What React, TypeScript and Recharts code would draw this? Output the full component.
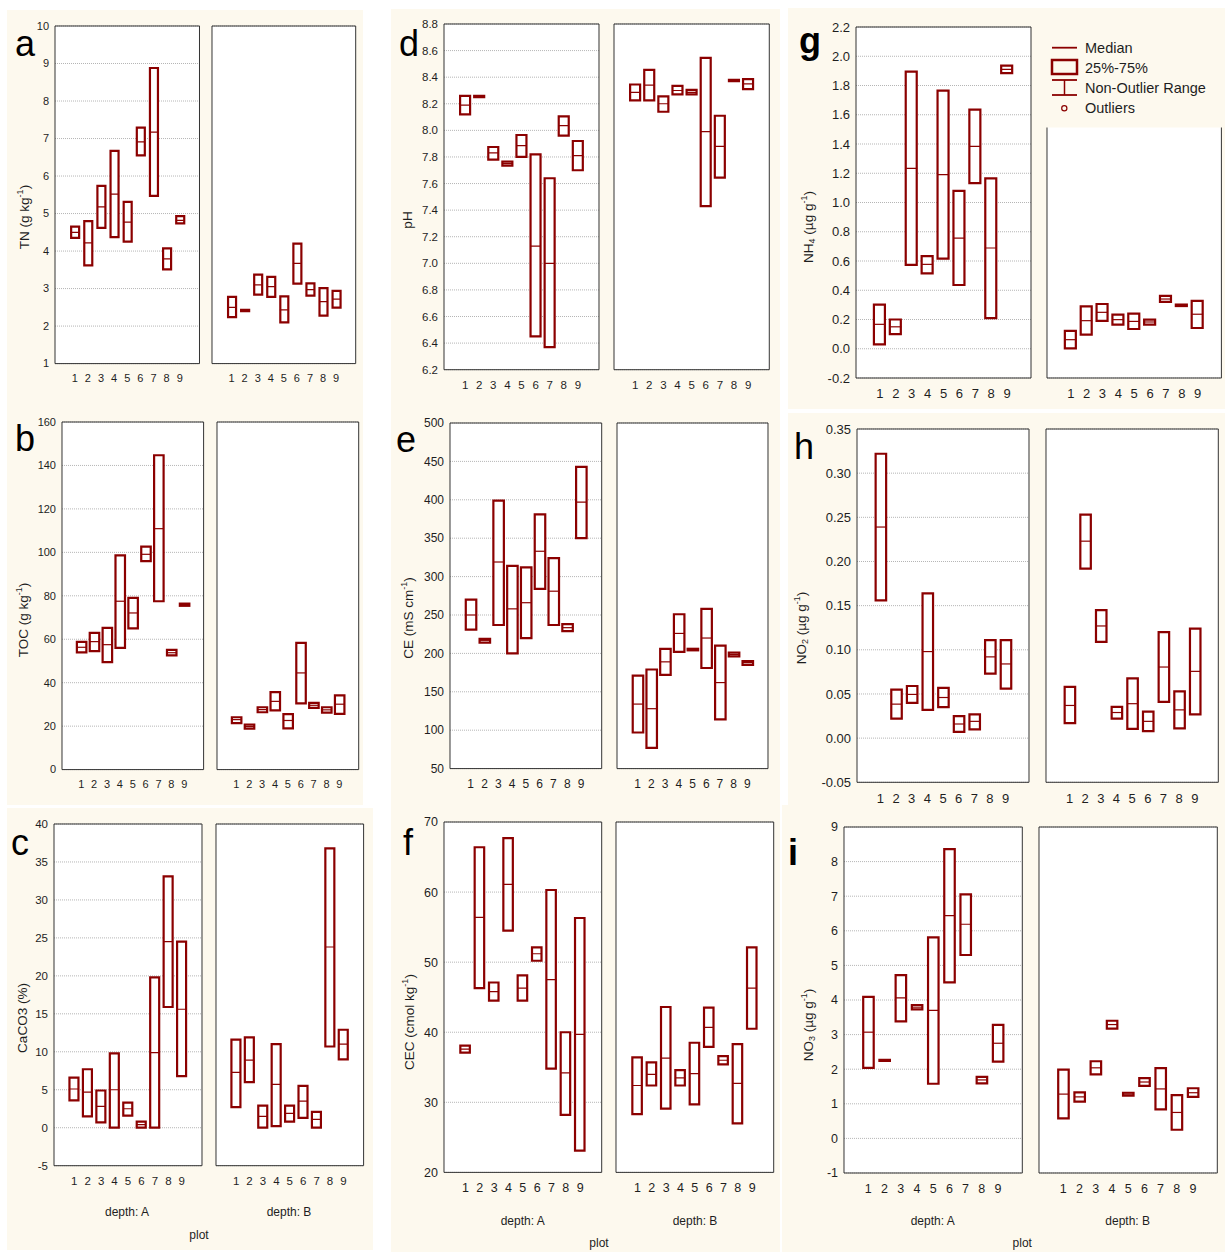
import React from "react";
import { Bar, CartesianGrid, ComposedChart, Scatter, XAxis, YAxis } from "recharts";

const plots = [1, 2, 3, 4, 5, 6, 7, 8, 9];

// each entry: [low, median, high] for plots 1..9
const tnA = [[4.35, 4.5, 4.65], [3.62, 4.22, 4.8], [4.62, 5.18, 5.74], [4.37, 5.52, 6.67], [4.25, 4.77, 5.31], [6.55, 6.91, 7.29], [5.47, 7.17, 8.88], [3.51, 3.79, 4.07], [4.74, 4.82, 4.93]];
const tnB = [[2.24, 2.5, 2.78], [2.4, 2.41, 2.43], [2.84, 3.1, 3.37], [2.78, 3.05, 3.31], [2.1, 2.43, 2.79], [3.13, 3.67, 4.2], [2.81, 2.97, 3.14], [2.28, 2.65, 3.01], [2.49, 2.72, 2.94]];
const tocA = [[54, 56.3, 58.8], [54.5, 58.9, 62.9], [49.5, 57.5, 65.2], [56, 77.5, 98.6], [65, 72.1, 79], [96, 99.1, 102.6], [77.5, 110.9, 144.7], [52.6, 53.8, 55.1], [75.4, 75.9, 76.4]];
const tocB = [[21.4, 23, 24.1], [18.9, 19.8, 20.7], [26.4, 27.6, 28.7], [27.3, 31.4, 35.7], [19, 22.6, 25.5], [30.5, 44.5, 58.3], [28.4, 29.6, 30.7], [26.2, 27.5, 28.7], [25.6, 30.1, 34.2]];
const caA = [[3.6, 5.1, 6.6], [1.5, 4.7, 7.7], [0.7, 2.8, 4.9], [0, 5, 9.8], [1.6, 2.5, 3.3], [0, 0.4, 0.8], [0, 9.9, 19.8], [15.9, 24.5, 33.1], [6.8, 15.6, 24.5]];
const caB = [[2.7, 7.3, 11.6], [6, 8.9, 11.9], [0, 1.5, 2.9], [0.2, 5.7, 11], [0.8, 1.9, 2.9], [1.3, 3.5, 5.5], [0, 1.1, 2.1], [10.7, 23.8, 36.8], [9, 11, 12.9]];
const phA = [[8.12, 8.19, 8.26], [8.25, 8.255, 8.26], [7.78, 7.83, 7.875], [7.735, 7.75, 7.765], [7.8, 7.885, 7.965], [6.45, 7.13, 7.82], [6.37, 7.0, 7.64], [7.96, 8.035, 8.105], [7.7, 7.81, 7.92]];
const phB = [[8.225, 8.285, 8.345], [8.225, 8.34, 8.455], [8.14, 8.2, 8.255], [8.27, 8.3, 8.335], [8.27, 8.285, 8.305], [7.43, 7.99, 8.545], [7.645, 7.88, 8.11], [8.37, 8.375, 8.38], [8.31, 8.35, 8.385]];
const ceA = [[231, 250, 270], [214, 217, 219], [237, 319, 399], [200, 258, 314], [220, 266, 312], [284, 333, 381], [237, 281, 324], [229, 233.5, 238], [350, 397, 443]];
const ceB = [[97, 134, 171], [77, 128, 179], [172, 189, 206], [202, 226, 251], [204, 205, 206], [181, 220, 258], [114, 162, 210], [196, 198.5, 201], [185, 188, 190]];
const cecA = [[37.1, 37.6, 38.1], [46.3, 56.4, 66.4], [44.5, 45.8, 47.1], [54.5, 61.1, 67.7], [44.5, 46.3, 48.1], [50.2, 51.2, 52.1], [34.8, 47.5, 60.3], [28.2, 34.2, 40], [23.1, 39.7, 56.3]];
const cecB = [[28.3, 32.4, 36.4], [32.4, 34, 35.7], [29.1, 36.3, 43.6], [32.4, 33.5, 34.6], [29.7, 34.1, 38.5], [37.9, 40.7, 43.5], [35.4, 36, 36.6], [27, 32.7, 38.3], [40.5, 46.3, 52.1]];
const nh4A = [[0.03, 0.167, 0.302], [0.1, 0.15, 0.2], [0.573, 1.234, 1.895], [0.516, 0.577, 0.634], [0.616, 1.19, 1.765], [0.436, 0.757, 1.079], [1.133, 1.384, 1.635], [0.21, 0.689, 1.165], [1.885, 1.91, 1.936]];
const nh4B = [[0.003, 0.062, 0.122], [0.096, 0.192, 0.29], [0.19, 0.249, 0.306], [0.165, 0.199, 0.233], [0.135, 0.187, 0.24], [0.165, 0.183, 0.199], [0.32, 0.34, 0.361], [0.292, 0.297, 0.302], [0.142, 0.236, 0.327]];
const no2A = [[0.156, 0.239, 0.322], [0.022, 0.0385, 0.055], [0.04, 0.0495, 0.059], [0.032, 0.098, 0.164], [0.035, 0.046, 0.057], [0.007, 0.016, 0.025], [0.01, 0.019, 0.027], [0.073, 0.092, 0.111], [0.056, 0.084, 0.111]];
const no2B = [[0.017, 0.037, 0.058], [0.192, 0.223, 0.253], [0.109, 0.127, 0.145], [0.022, 0.029, 0.0355], [0.0105, 0.039, 0.0676], [0.008, 0.019, 0.03], [0.041, 0.0805, 0.12], [0.011, 0.032, 0.053], [0.027, 0.0756, 0.124]];
const no3A = [[2.04, 3.07, 4.09], [2.24, 2.26, 2.27], [3.38, 4.06, 4.72], [3.73, 3.79, 3.85], [1.58, 3.7, 5.81], [4.51, 6.44, 8.36], [5.3, 6.19, 7.05], [1.59, 1.69, 1.78], [2.22, 2.75, 3.28]];
const no3B = [[0.58, 1.28, 1.99], [1.06, 1.2, 1.33], [1.85, 2.04, 2.23], [3.17, 3.29, 3.4], [1.235, 1.28, 1.32], [1.52, 1.63, 1.74], [0.84, 1.43, 2.03], [0.25, 0.75, 1.25], [1.2, 1.32, 1.45]];

const tnTicks = [1, 2, 3, 4, 5, 6, 7, 8, 9, 10];
const tocTicks = [0, 20, 40, 60, 80, 100, 120, 140, 160];
const caTicks = [-5, 0, 5, 10, 15, 20, 25, 30, 35, 40];
const phTicks = [6.2, 6.4, 6.6, 6.8, 7.0, 7.2, 7.4, 7.6, 7.8, 8.0, 8.2, 8.4, 8.6, 8.8];
const ceTicks = [50, 100, 150, 200, 250, 300, 350, 400, 450, 500];
const cecTicks = [20, 30, 40, 50, 60, 70];
const nh4Ticks = [-0.2, 0, 0.2, 0.4, 0.6, 0.8, 1.0, 1.2, 1.4, 1.6, 1.8, 2.0, 2.2];
const no2Ticks = [-0.05, 0, 0.05, 0.1, 0.15, 0.2, 0.25, 0.3, 0.35];
const no3Ticks = [-1, 0, 1, 2, 3, 4, 5, 6, 7, 8, 9];

const FONT = '"Liberation Sans", Arial, sans-serif';
const TXT = "#1e1e1e";
const FRAME = "#333";
const BOX = "#8b0000";
const CREAM = "#fdf9ee";

const f0 = (v: number) => String(Math.round(v));
const f1 = (v: number) => v.toFixed(1);
const f2 = (v: number) => v.toFixed(2);

type Frame = { l: number; t: number; r: number; b: number };

function buildData(boxes: number[][]) {
  return [0, ...plots, 10].map((p) => {
    const i = plots.indexOf(p);
    const v = i >= 0 ? boxes[i] : null;
    return { plot: p, range: v ? [v[0], v[2]] : null, med: v ? v[1] : null };
  });
}

function SubPlot({ frame, boxes, ticks, fmt, fs, barSize, labels }: {
  frame: Frame; boxes: number[][]; ticks: number[]; fmt: (v: number) => string; fs: number; barSize: number; labels: boolean;
}) {
  const padL = labels ? 46 : 4;
  const padT = 12;
  const padR = 4;
  const padB = 30;
  const w = frame.r - frame.l + padL + padR;
  const h = frame.b - frame.t + padT + padB;
  const domain = [ticks[0], ticks[ticks.length - 1]];
  const tickStyle = { fontSize: fs, fill: TXT, fontFamily: FONT };
  const medShape = (p: any) => {
    if (!p.payload || p.payload.med == null) return <g />;
    return <line x1={p.cx - barSize / 2} x2={p.cx + barSize / 2} y1={p.cy} y2={p.cy} stroke={BOX} strokeWidth={1.2} />;
  };
  return (
    <div style={{ position: "absolute", left: frame.l - padL, top: frame.t - padT }}>
      <ComposedChart width={w} height={h} data={buildData(boxes)} margin={{ top: padT, right: padR, bottom: 0, left: 0 }}>
        <CartesianGrid vertical={false} fill="#fff" stroke="#b5b5b5" strokeDasharray="1 1" />
        <XAxis dataKey="plot" type="category" height={padB} interval={0} tickLine={false} tickSize={0} tickMargin={11}
          axisLine={{ stroke: FRAME }} tick={tickStyle} tickFormatter={(v: number) => (v >= 1 && v <= 9 ? String(v) : "")} />
        <XAxis xAxisId="bi" dataKey="plot" type="category" mirror interval={0} tick={false} tickSize={3} axisLine={false} tickLine={{ stroke: FRAME }} />
        <XAxis xAxisId="ti" dataKey="plot" type="category" orientation="top" mirror interval={0} tick={false} tickSize={3} axisLine={{ stroke: FRAME }} tickLine={{ stroke: FRAME }} />
        <YAxis type="number" domain={domain} ticks={ticks} allowDataOverflow interval={0} width={padL} tickLine={false} tickSize={0} tickMargin={6}
          axisLine={{ stroke: FRAME }} tick={labels ? tickStyle : false} tickFormatter={fmt} />
        <YAxis yAxisId="li" type="number" domain={domain} ticks={ticks} allowDataOverflow interval={0} mirror tick={false} tickSize={3} axisLine={false} tickLine={{ stroke: FRAME }} />
        <YAxis yAxisId="ri" type="number" orientation="right" domain={domain} ticks={ticks} allowDataOverflow interval={0} mirror tick={false} tickSize={3} axisLine={{ stroke: FRAME }} tickLine={{ stroke: FRAME }} />
        <Bar dataKey="range" barSize={barSize} fill="#fff" stroke={BOX} strokeWidth={2.2} isAnimationActive={false} />
        <Scatter dataKey="med" shape={medShape} isAnimationActive={false} />
      </ComposedChart>
    </div>
  );
}

const panels = [
  { A: { l: 55, t: 25.7, r: 199.5, b: 363.3 }, bl: 212.3, br: 356, a: tnA, b: tnB, ticks: tnTicks, fmt: f0, fs: 11, bar: 8 },
  { A: { l: 61.7, t: 421.7, r: 203.3, b: 769.3 }, bl: 217.3, br: 359, a: tocA, b: tocB, ticks: tocTicks, fmt: f0, fs: 11, bar: 9.5 },
  { A: { l: 54, t: 824, r: 202, b: 1165.7 }, bl: 215.7, br: 363.3, a: caA, b: caB, ticks: caTicks, fmt: f0, fs: 11.5, bar: 9 },
  { A: { l: 444.3, t: 24.3, r: 599.3, b: 370 }, bl: 614, br: 769.3, a: phA, b: phB, ticks: phTicks, fmt: f1, fs: 11.5, bar: 10 },
  { A: { l: 450, t: 422.7, r: 601.7, b: 768.3 }, bl: 616.7, br: 767.7, a: ceA, b: ceB, ticks: ceTicks, fmt: f0, fs: 12, bar: 10.5 },
  { A: { l: 444, t: 822.3, r: 601.7, b: 1172.7 }, bl: 616.3, br: 774, a: cecA, b: cecB, ticks: cecTicks, fmt: f0, fs: 12.5, bar: 9.5 },
  { A: { l: 855.7, t: 26.7, r: 1030.7, b: 377.7 }, bl: 1047.3, br: 1221.7, a: nh4A, b: nh4B, ticks: nh4Ticks, fmt: f1, fs: 13, bar: 11 },
  { A: { l: 857.3, t: 429, r: 1029.3, b: 782.3 }, bl: 1046, br: 1218.3, a: no2A, b: no2B, ticks: no2Ticks, fmt: f2, fs: 13, bar: 10.5 },
  { A: { l: 844, t: 827.3, r: 1022.3, b: 1173.3 }, bl: 1039, br: 1217.3, a: no3A, b: no3B, ticks: no3Ticks, fmt: f0, fs: 12.5, bar: 10.5 },
];

const letters = [
  { t: "a", x: 15, y: 56 }, { t: "b", x: 15, y: 451 }, { t: "c", x: 11, y: 855 },
  { t: "d", x: 399, y: 56 }, { t: "e", x: 396, y: 452 }, { t: "f", x: 403, y: 855 },
  { t: "g", x: 799, y: 53, bold: true }, { t: "h", x: 794, y: 459 }, { t: "i", x: 788, y: 865, bold: true },
];

function YTitle({ x, y, children }: { x: number; y: number; children: React.ReactNode }) {
  return (
    <text transform={`translate(${x},${y}) rotate(-90)`} textAnchor="middle" dominantBaseline="central" fontSize={13.5} fill={TXT} fontFamily={FONT}>
      {children}
    </text>
  );
}

const sup = (
  <>
    <tspan dy={-4.5} fontSize={9}>-1</tspan>
    <tspan dy={4.5}>)</tspan>
  </>
);

function Overlay() {
  const depthRows = [
    { ax: 127, bx: 289, y: 1212, px: 199, py: 1235 },
    { ax: 522.7, bx: 695, y: 1221, px: 599, py: 1243 },
    { ax: 932.7, bx: 1127.7, y: 1221, px: 1022.3, py: 1243 },
  ];
  return (
    <svg width={1225} height={1252} style={{ position: "absolute", left: 0, top: 0, pointerEvents: "none" }}>
      {letters.map((l) => (
        <text key={l.t} x={l.x} y={l.y} fontSize={36} fontWeight={l.bold ? 700 : 400} fontFamily={FONT} fill="#000">{l.t}</text>
      ))}
      <YTitle x={24} y={217}>TN (g kg{sup}</YTitle>
      <YTitle x={23} y={620}>TOC (g kg{sup}</YTitle>
      <YTitle x={22} y={1018}>CaCO3 (%)</YTitle>
      <YTitle x={407} y={220}>pH</YTitle>
      <YTitle x={408} y={618}>CE (mS cm{sup}</YTitle>
      <YTitle x={409} y={1022}>CEC (cmol kg{sup}</YTitle>
      <YTitle x={808} y={227}>NH<tspan dy={3.5} fontSize={9}>4</tspan><tspan dy={-3.5}> (µg g</tspan>{sup}</YTitle>
      <YTitle x={801} y={628}>NO<tspan dy={3.5} fontSize={9}>2</tspan><tspan dy={-3.5}> (µg g</tspan>{sup}</YTitle>
      <YTitle x={808} y={1025}>NO<tspan dy={3.5} fontSize={9}>3</tspan><tspan dy={-3.5}> (µg g</tspan>{sup}</YTitle>
      {depthRows.map((d, i) => (
        <g key={i} fontSize={12} fill={TXT} fontFamily={FONT} textAnchor="middle" dominantBaseline="central">
          <text x={d.ax} y={d.y}>depth: A</text>
          <text x={d.bx} y={d.y}>depth: B</text>
          <text x={d.px} y={d.py}>plot</text>
        </g>
      ))}
      <rect x={1033} y={8} width={192} height={119.5} fill={CREAM} />
      <g stroke={BOX} fill="none">
        <line x1={1052} x2={1077} y1={47.7} y2={47.7} strokeWidth={1.8} />
        <rect x={1052} y={60} width={25} height={14} strokeWidth={2.5} />
        <line x1={1052} x2={1077} y1={80} y2={80} strokeWidth={1.8} />
        <line x1={1064.5} x2={1064.5} y1={80} y2={95} strokeWidth={1.5} />
        <line x1={1052} x2={1077} y1={95} y2={95} strokeWidth={1.8} />
        <circle cx={1064.3} cy={108.3} r={2.6} strokeWidth={1.2} />
      </g>
      <g fontSize={14.5} fill={TXT} fontFamily={FONT} dominantBaseline="central">
        <text x={1085} y={47.7}>Median</text>
        <text x={1085} y={68}>25%-75%</text>
        <text x={1085} y={88}>Non-Outlier Range</text>
        <text x={1085} y={108.3}>Outliers</text>
      </g>
    </svg>
  );
}

export default function App() {
  return (
    <div style={{ position: "absolute", left: 0, top: 0, width: 1225, height: 1252, background: "#fff", overflow: "hidden" }}>
      <div style={{ position: "absolute", left: 7, top: 10, width: 356, height: 795, background: CREAM }} />
      <div style={{ position: "absolute", left: 7, top: 808, width: 366, height: 442, background: CREAM }} />
      <div style={{ position: "absolute", left: 391, top: 9, width: 389, height: 1243, background: CREAM }} />
      <div style={{ position: "absolute", left: 788, top: 8, width: 437, height: 401, background: CREAM }} />
      <div style={{ position: "absolute", left: 788, top: 413, width: 437, height: 392, background: CREAM }} />
      <div style={{ position: "absolute", left: 782, top: 805, width: 443, height: 447, background: CREAM }} />
      {panels.map((p, i) => (
        <React.Fragment key={i}>
          <SubPlot frame={p.A} boxes={p.a} ticks={p.ticks} fmt={p.fmt} fs={p.fs} barSize={p.bar} labels />
          <SubPlot frame={{ l: p.bl, t: p.A.t, r: p.br, b: p.A.b }} boxes={p.b} ticks={p.ticks} fmt={p.fmt} fs={p.fs} barSize={p.bar} labels={false} />
        </React.Fragment>
      ))}
      <Overlay />
    </div>
  );
}
